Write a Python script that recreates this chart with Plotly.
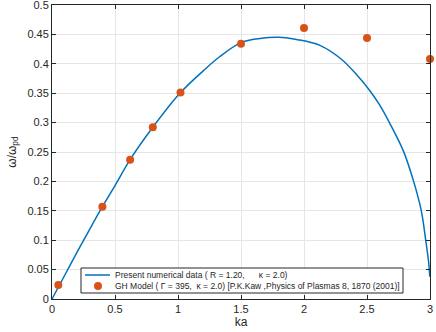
import plotly.graph_objects as go

# numerical dispersion curve
ka_num = [0, 0.1, 0.2, 0.3, 0.4, 0.5, 0.62, 0.8, 1.02, 1.2, 1.33, 1.5, 1.65,
          1.8, 1.95, 2.13, 2.29, 2.42, 2.52, 2.6, 2.68, 2.79, 2.87, 2.93,
          2.966, 2.99, 2.998]
w_num = [0, 0.040, 0.080, 0.119, 0.157, 0.193, 0.237, 0.292, 0.351, 0.388,
         0.412, 0.436, 0.443, 0.445, 0.441, 0.431, 0.409, 0.381, 0.355, 0.330,
         0.299, 0.251, 0.200, 0.151, 0.100, 0.061, 0.038]

# GH model points
ka_gh = [0.05, 0.4, 0.62, 0.8, 1.02, 1.5, 2.0, 2.5, 3.0]
w_gh = [0.024, 0.157, 0.237, 0.292, 0.351, 0.434, 0.461, 0.444, 0.408]

x_ticks = [0, 0.5, 1, 1.5, 2, 2.5, 3]
x_labels = ['0', '0.5', '1', '1.5', '2', '2.5', '3']
y_ticks = [0, 0.05, 0.1, 0.15, 0.2, 0.25, 0.3, 0.35, 0.4, 0.45, 0.5]
y_labels = ['0', '0.05', '0.1', '0.15', '0.2', '0.25', '0.3', '0.35', '0.4', '0.45', '0.5']

legend_labels = [
    'Present numerical data ( R = 1.20,      \u03ba = 2.0)',
    'GH Model ( \u0393 = 395,  \u03ba = 2.0) [P.K.Kaw ,Physics of Plasmas 8, 1870 (2001)]',
]

LINE_C = '#0072BD'
DOT_C = '#D95319'
AX_C = '#262626'

fig = go.Figure()
fig.add_trace(go.Scatter(
    x=ka_num, y=w_num, mode='lines', line_shape='spline',
    line=dict(color=LINE_C, width=1.5), showlegend=False))
fig.add_trace(go.Scatter(
    x=ka_gh, y=w_gh, mode='markers', cliponaxis=False,
    marker=dict(color=DOT_C, size=8), showlegend=False))

axis_common = dict(
    showline=True, linecolor=AX_C, linewidth=1, mirror='ticks',
    ticks='inside', ticklen=4, tickcolor=AX_C,
    showgrid=True, gridcolor='#e6e6e6', gridwidth=1, zeroline=False,
    tickfont=dict(size=11, color=AX_C), ticklabeloverflow='allow',
)

fig.update_xaxes(range=[0, 3], tickvals=x_ticks, ticktext=x_labels,
                 title=dict(text='ka', font=dict(size=12, color=AX_C), standoff=2),
                 **axis_common)
fig.update_yaxes(range=[0, 0.5], tickvals=y_ticks, ticktext=y_labels,
                 title=dict(text='\u03c9/\u03c9<sub>pd</sub>', font=dict(size=12, color=AX_C), standoff=8),
                 **axis_common)

# legend box drawn by hand (plotly's own legend rows are too tall here)
fig.add_shape(type='rect', xref='paper', yref='paper',
              x0=0.0767, x1=0.9286, y0=0.0204, y1=0.1054,
              fillcolor='white', line=dict(color=AX_C, width=1), layer='above')
fig.add_shape(type='line', xref='paper', yref='paper',
              x0=0.0873, x1=0.1534, y0=0.0816, y1=0.0816,
              line=dict(color=LINE_C, width=1.5), layer='above')
fig.add_shape(type='circle', xref='paper', yref='paper',
              xsizemode='pixel', ysizemode='pixel', xanchor=0.1217, yanchor=0.0442,
              x0=-4, x1=4, y0=-4, y1=4,
              fillcolor=DOT_C, line=dict(color=DOT_C, width=0), layer='above')
for lbl, yy in zip(legend_labels, [0.0816, 0.0442]):
    fig.add_annotation(text=lbl, xref='paper', yref='paper', x=0.1614, y=yy,
                       xanchor='left', yanchor='middle', showarrow=False,
                       font=dict(size=8.5, color=AX_C))

fig.update_layout(
    width=436, height=332,
    margin=dict(l=52, r=6, t=5, b=33, autoexpand=False),
    paper_bgcolor='white', plot_bgcolor='white',
    font=dict(family='Liberation Sans, Arial, sans-serif', color=AX_C),
    showlegend=False,
)

# page body has a default 8px margin; drop it so the figure fills the window
fig.write_html("out.html", config={'displayModeBar': False},
               post_script="document.body.style.margin='0';")
